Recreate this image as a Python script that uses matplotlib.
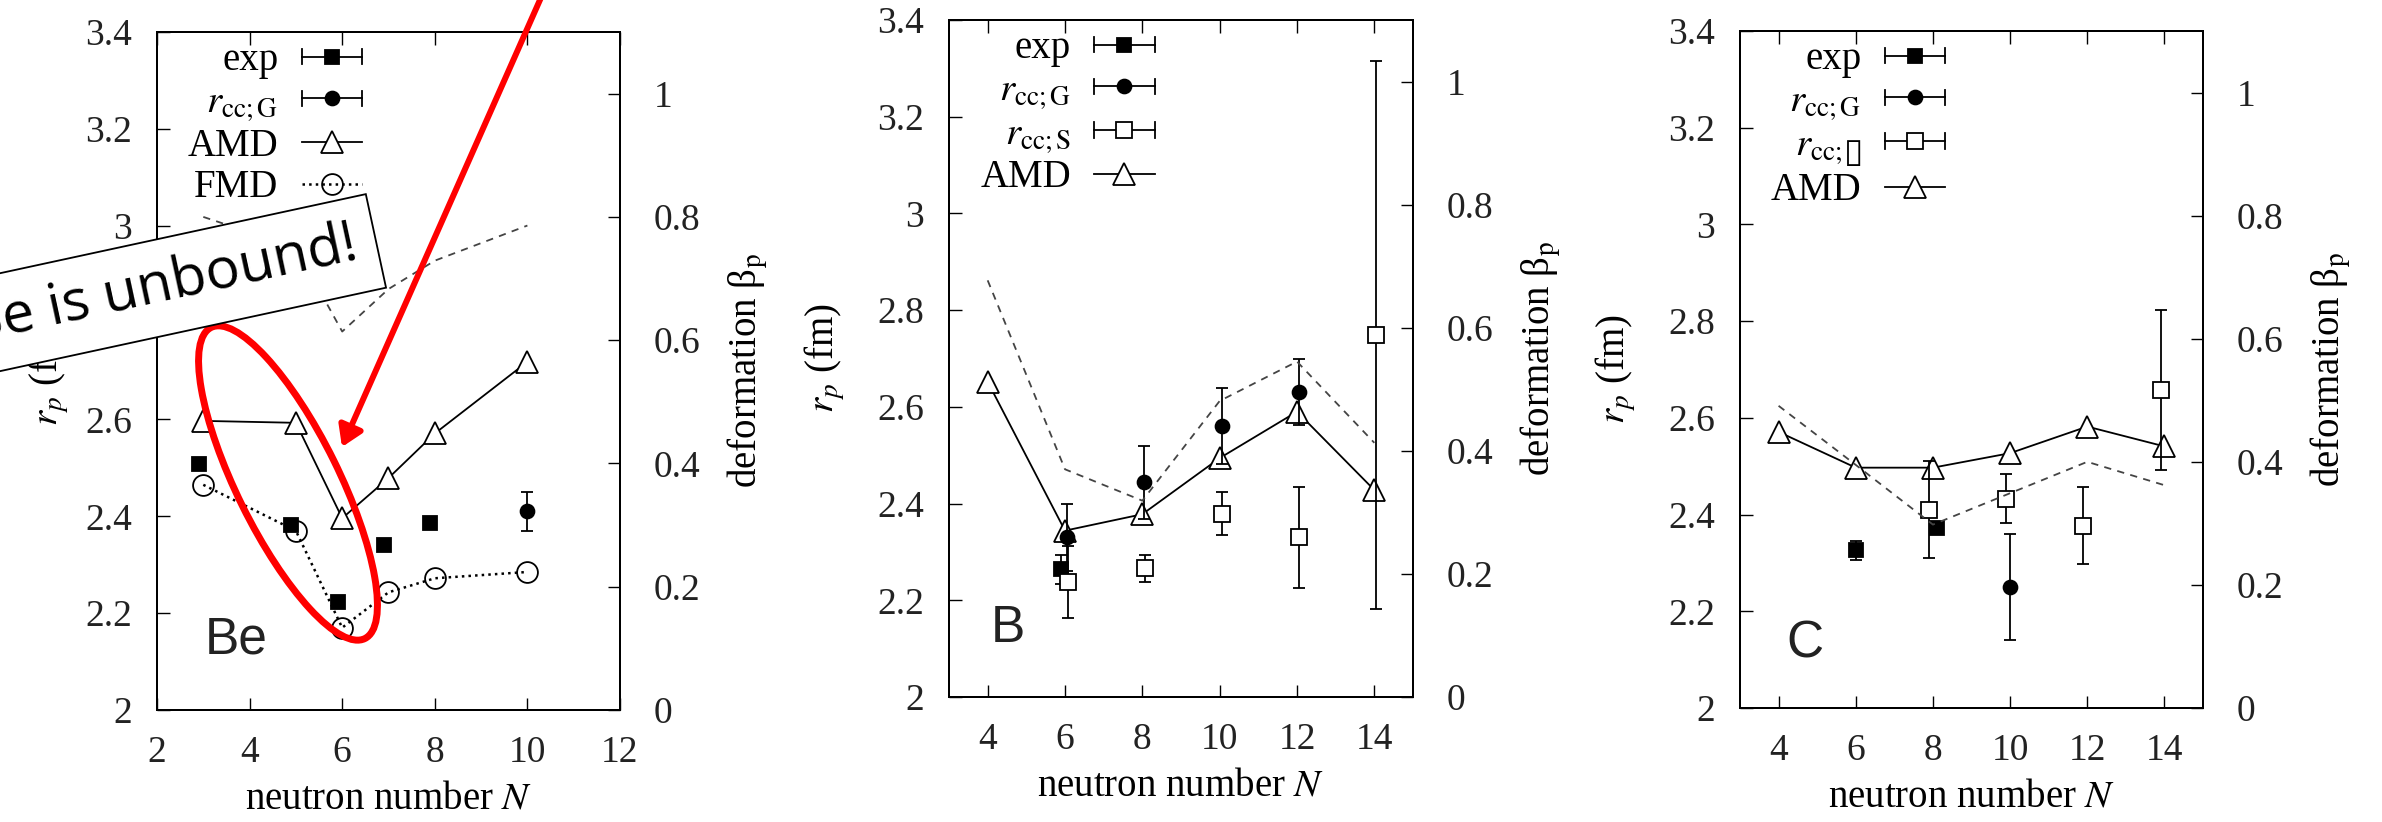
import matplotlib
matplotlib.use('Agg')
import matplotlib.pyplot as plt
import matplotlib.transforms as mtransforms
from matplotlib.legend_handler import HandlerBase
from matplotlib.lines import Line2D
from matplotlib.patches import Ellipse, FancyArrowPatch
from matplotlib.ticker import FormatStrFormatter

plt.rcParams['font.family'] = ['Liberation Serif', 'DejaVu Serif']
plt.rcParams['mathtext.fontset'] = 'stix'
plt.rcParams['font.size'] = 28
plt.rcParams['xtick.labelsize'] = 27
plt.rcParams['ytick.labelsize'] = 27

# ---- Be ----
be_exp_n = [2.9, 4.9, 5.9, 6.9, 7.9]
be_exp_r = [2.508, 2.382, 2.224, 2.340, 2.386]
be_exp_err = [0.012, 0.008, 0.010, 0.009, 0.008]
be_ccg_n = [10.0]
be_ccg_r = [2.41]
be_ccg_err = [0.04]
be_amd_n = [3, 5, 6, 7, 8, 10]
be_amd_r = [2.597, 2.593, 2.396, 2.479, 2.571, 2.719]
be_fmd_n = [3, 5, 6, 7, 8, 10]
be_fmd_r = [2.465, 2.370, 2.170, 2.243, 2.272, 2.285]
be_beta_n = [3, 5, 6, 7, 8, 10]
be_beta = [0.80, 0.75, 0.614, 0.683, 0.729, 0.786]

# ---- B ----
b_exp_n = [5.9]
b_exp_r = [2.264]
b_exp_err = [0.03]
b_ccg_n = [6.05, 8.05, 10.05, 12.05]
b_ccg_r = [2.33, 2.444, 2.56, 2.63]
b_ccg_err = [0.07, 0.076, 0.078, 0.068]
b_ccs_n = [6.08, 8.08, 10.05, 12.05, 14.05]
b_ccs_r = [2.238, 2.266, 2.379, 2.33, 2.748]
b_ccs_err = [0.075, 0.028, 0.045, 0.105, 0.567]
b_amd_n = [4, 6, 8, 10, 12, 14]
b_amd_r = [2.652, 2.344, 2.378, 2.494, 2.590, 2.428]
b_beta_n = [4, 6, 8, 10, 12, 14]
b_beta = [0.677, 0.370, 0.319, 0.481, 0.545, 0.413]

# ---- C ----
c_exp_n = [6.0, 8.1]
c_exp_r = [2.326, 2.372]
c_exp_err = [0.02, 0.008]
c_ccg_n = [10.0]
c_ccg_r = [2.25]
c_ccg_err = [0.11]
c_ccs_n = [7.9, 9.9, 11.9, 13.9]
c_ccs_r = [2.41, 2.433, 2.377, 2.658]
c_ccs_err = [0.10, 0.05, 0.08, 0.165]
c_amd_n = [4, 6, 8, 10, 12, 14]
c_amd_r = [2.571, 2.497, 2.497, 2.527, 2.582, 2.541]
c_beta_n = [4, 6, 8, 10, 12, 14]
c_beta = [0.491, 0.395, 0.298, 0.349, 0.40, 0.362]

W, H = 2382, 822
fig = plt.figure(figsize=(W / 100, H / 100), dpi=100)
px = mtransforms.Affine2D().scale(1.0 / W, -1.0 / H).translate(0, 1) + fig.transFigure


class ErrKey(HandlerBase):
    # gnuplot style key sample: horizontal bar with end caps, marker in the middle
    def create_artists(self, legend, orig, xdescent, ydescent, width, height, fontsize, trans):
        x0, x1 = -xdescent, width - xdescent
        y = (height - ydescent) / 2
        c = 0.28 * height
        arts = [Line2D([x0, x1], [y, y], color='k', lw=1.3),
                Line2D([x0, x0], [y - c, y + c], color='k', lw=1.3),
                Line2D([x1, x1], [y - c, y + c], color='k', lw=1.3),
                Line2D([(x0 + x1) / 2], [y], ls='none', marker=orig.get_marker(),
                       ms=orig.get_markersize(), mfc=orig.get_markerfacecolor(),
                       mec='k', mew=orig.get_markeredgewidth())]
        for a in arts:
            a.set_transform(trans)
        return arts


def err(ax, n, r, e, marker, filled, ms):
    eb = ax.errorbar(n, r, yerr=e, fmt=marker, color='k', ms=ms,
                     mfc='k' if filled else 'white', mec='k', mew=1.3,
                     capsize=4.5, elinewidth=1.3, capthick=1.3, zorder=4)
    return eb.lines[0]


def setup(ax, rect, xlim, xticks, ylabpad, rlabpad, name, namepos):
    ax.set_position(rect)
    ax.set_xlim(*xlim)
    ax.set_xticks(xticks)
    ax.set_ylim(2, 3.4)
    ax.set_yticks([2, 2.2, 2.4, 2.6, 2.8, 3, 3.2, 3.4])
    ax.yaxis.set_major_formatter(FormatStrFormatter('%g'))
    ax.tick_params(axis='x', direction='in', top=True, length=9, width=1, pad=18, labelcolor='#222')
    ax.tick_params(axis='y', direction='in', left=True, right=False, length=9, width=1, pad=18, labelcolor='#222')
    ax.set_xlabel('neutron number $N$', labelpad=8)
    ax.set_ylabel('$r_p$ (fm)', labelpad=ylabpad)
    for s in ax.spines.values():
        s.set_linewidth(1.4)
    ax.text(namepos[0], namepos[1], name, transform=ax.transAxes, fontsize=37,
            family=['Liberation Sans', 'DejaVu Sans'], va='baseline', color='#222')
    ax2 = ax.twinx()
    ax2.set_position(rect)
    ax2.set_ylim(0, 1.1)
    ax2.set_yticks([0, 0.2, 0.4, 0.6, 0.8, 1])
    ax2.yaxis.set_major_formatter(FormatStrFormatter('%g'))
    ax2.tick_params(axis='y', direction='in', right=True, length=9, width=1, pad=24, labelcolor='#222')
    ax2.set_ylabel('deformation \u03b2$_{\\rm p}$', labelpad=rlabpad)
    for s in ax2.spines.values():
        s.set_linewidth(1.4)
    return ax2


def key(ax2, handles, labels, errhandles):
    ax2.legend(handles, labels, loc='upper right', bbox_to_anchor=(0.443, 0.985),
               frameon=False, markerfirst=False, handlelength=1.55, handletextpad=0.6,
               labelspacing=0.12, borderpad=0, borderaxespad=0, fontsize=28,
               handler_map={h: ErrKey() for h in errhandles})


def dashed(ax2, n, b):
    ax2.plot(n, b, color='#444', lw=1.3, dashes=(4, 3.5), zorder=2)


# ---- panel Be ----
ax = fig.add_subplot(131)
ax2 = setup(ax, [157 / W, 1 - 710 / H, 463 / W, 678 / H], (2, 12), range(2, 13, 2), 10, 18,
            'Be', (0.104, 0.084))
h_exp = err(ax, be_exp_n, be_exp_r, be_exp_err, 's', True, 10)
h_ccg = err(ax, be_ccg_n, be_ccg_r, be_ccg_err, 'o', True, 10)
h_amd, = ax.plot(be_amd_n, be_amd_r, '-', color='k', lw=1.3, marker='^', ms=16, mfc='white', mec='k', mew=1.3)
h_fmd, = ax.plot(be_fmd_n, be_fmd_r, ':', color='k', lw=1.8, marker='o', ms=15, mfc='none', mec='k', mew=1.3)
dashed(ax2, be_beta_n, be_beta)
key(ax2, [h_exp, h_ccg, h_amd, h_fmd], ['exp', r'$r_{\rm cc;G}$', 'AMD', 'FMD'], [h_exp, h_ccg])

# ---- panel B ----
ax = fig.add_subplot(132)
ax2 = setup(ax, [949 / W, 1 - 697 / H, 464 / W, 677 / H], (3, 15), range(4, 15, 2), 22, 18,
            'B', (0.091, 0.081))
h_amd, = ax.plot(b_amd_n, b_amd_r, '-', color='k', lw=1.3, marker='^', ms=16, mfc='white', mec='k', mew=1.3)
h_exp = err(ax, b_exp_n, b_exp_r, b_exp_err, 's', True, 10)
h_ccg = err(ax, b_ccg_n, b_ccg_r, b_ccg_err, 'o', True, 10)
h_ccs = err(ax, b_ccs_n, b_ccs_r, b_ccs_err, 's', False, 11)
dashed(ax2, b_beta_n, b_beta)
key(ax2, [h_exp, h_ccg, h_ccs, h_amd], ['exp', r'$r_{\rm cc;G}$', r'$r_{\rm cc;S}$', 'AMD'], [h_exp, h_ccg, h_ccs])

# ---- panel C ----
ax = fig.add_subplot(133)
ax2 = setup(ax, [1740 / W, 1 - 708 / H, 463 / W, 677 / H], (3, 15), range(4, 15, 2), 22, 18,
            'C', (0.10, 0.074))
h_amd, = ax.plot(c_amd_n, c_amd_r, '-', color='k', lw=1.3, marker='^', ms=16, mfc='white', mec='k', mew=1.3)
h_exp = err(ax, c_exp_n, c_exp_r, c_exp_err, 's', True, 10)
h_ccg = err(ax, c_ccg_n, c_ccg_r, c_ccg_err, 'o', True, 10)
h_ccs = err(ax, c_ccs_n, c_ccs_r, c_ccs_err, 's', False, 11)
dashed(ax2, c_beta_n, c_beta)
key(ax2, [h_exp, h_ccg, h_ccs, h_amd],
    ['exp', r'$r_{\rm cc;G}$', '$r_{\\rm cc;\u25af}$', 'AMD'], [h_exp, h_ccg, h_ccs])

# ---- slide annotation ----
fig.add_artist(Ellipse((288, 483), 347, 102, angle=63.7, transform=px, fill=False,
                       ec='#ff0000', lw=5, zorder=4))
fig.text(357, 245, '\u2078Be is unbound!', transform=px, rotation=12.2, rotation_mode='anchor',
         ha='right', va='center', fontsize=41, family=['Open Sans', 'DejaVu Sans'], zorder=5,
         bbox=dict(boxstyle='square,pad=0.34', fc='white', ec='black', lw=1.3))
fig.add_artist(FancyArrowPatch((551, -25), (342, 447), transform=px,
                               arrowstyle='-|>,head_length=0.6,head_width=0.38', mutation_scale=20,
                               lw=4.3, color='#ff0000', shrinkA=0, shrinkB=0, zorder=6))

fig.savefig('out.png', dpi=100)
